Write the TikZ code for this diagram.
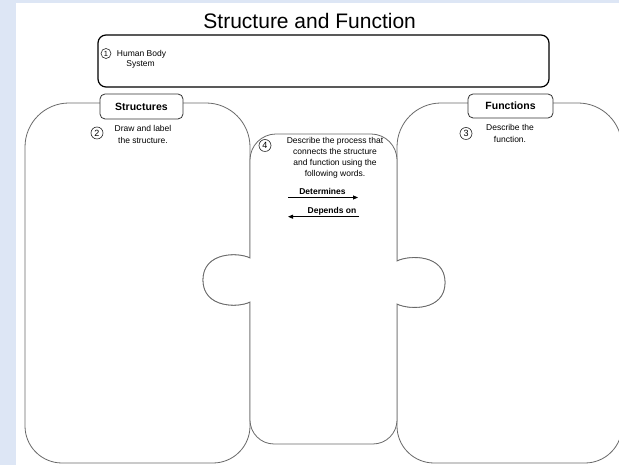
\documentclass[tikz,border=0pt]{standalone}
\usepackage{fontspec}
\setmainfont{Liberation Sans}
\usetikzlibrary{arrows.meta}
\definecolor{bgblue}{RGB}{221,230,245}
\definecolor{piecegray}{RGB}{105,105,105}
\begin{document}
\begin{tikzpicture}[x=1pt,y=1pt,
  piece/.style={draw=piecegray,line width=0.8pt,fill=white},
  labelbox/.style={draw=black!80,line width=0.8pt,fill=white,rounded corners=5pt,inner sep=0pt,font=\bfseries\fontsize{10.5}{12}\selectfont},
  numcirc/.style={circle,draw=black!85,line width=0.6pt,inner sep=0pt,minimum size=12pt,font=\fontsize{9}{9}\selectfont},
  txt/.style={anchor=base,font=\fontsize{8.5}{10}\selectfont,inner sep=0pt},
  btxt/.style={anchor=base,font=\bfseries\fontsize{8.5}{10}\selectfont,inner sep=0pt},
  arr/.style={line width=0.8pt,-{Triangle[length=5pt,width=4pt]}}]
\useasboundingbox (0,0) rectangle (619,465);
\fill[bgblue] (0,0) rectangle (619,465);
\fill[white] (16,0) rectangle (619,462);
\begin{scope}
\clip (0,0) rectangle (619,465);
% left piece
\draw[piece] (250,207) -- (250,318) arc[start angle=0,end angle=90,radius=44]
  -- (69,362) arc[start angle=90,end angle=180,radius=44]
  -- (25,39) arc[start angle=180,end angle=270,radius=37]
  -- (213,2) arc[start angle=270,end angle=360,radius=37]
  -- (250,163) .. controls (238,157) and (203,157) .. (203,185)
  .. controls (203,213) and (238,213) .. (250,207) -- cycle;
% right piece
\draw[piece] (397,161) -- (397,39) arc[start angle=180,end angle=270,radius=37]
  -- (585,2) arc[start angle=270,end angle=360,radius=37]
  -- (622,318) arc[start angle=0,end angle=90,radius=44]
  -- (441,362) arc[start angle=90,end angle=180,radius=44]
  -- (397,204) .. controls (409,210) and (445,211) .. (445,182.5)
  .. controls (445,154) and (409,155) .. (397,161) -- cycle;
% centre piece
\draw[piece] (250,207) -- (250,305) arc[start angle=180,end angle=90,radius=26]
  -- (371,331) arc[start angle=90,end angle=0,radius=26]
  -- (397,204) .. controls (409,210) and (445,211) .. (445,182.5)
  .. controls (445,154) and (409,155) .. (397,161)
  -- (397,45) arc[start angle=0,end angle=-90,radius=24]
  -- (274,21) arc[start angle=270,end angle=180,radius=24]
  -- (250,163) .. controls (238,157) and (203,157) .. (203,185)
  .. controls (203,213) and (238,213) .. (250,207) -- cycle;
\end{scope}
% title
\node[anchor=base,inner sep=0pt,font=\fontsize{21}{24}\selectfont] (title) at (309.7,436.5) {Structure and Function};
% top box
\node[draw=black,line width=1.2pt,rounded corners=8pt,minimum width=451pt,minimum height=52pt,inner sep=0pt] (sysbox) at (323.5,404) {};
\node[numcirc,minimum size=10pt,font=\fontsize{7.5}{7.5}\selectfont] (n1) at (106,411.5) {1};
\node[txt] (hb1) at (141.5,408.5) {Human Body};
\node[txt] (hb2) at (140.5,398) {System};
% label boxes
\node[labelbox,minimum width=83pt,minimum height=25pt] (structlbl) at (141.5,358.5) {Structures};
\node[labelbox,minimum width=85pt,minimum height=24pt] (funclbl) at (510.5,359) {Functions};
% structures text
\node[numcirc] (n2) at (97,332) {2};
\node[txt] (s1) at (143,333.5) {Draw and label};
\node[txt] (s2) at (143,321.5) {the structure.};
% functions text
\node[numcirc] (n3) at (466,331.5) {3};
\node[txt] (f1) at (510,334) {Describe the};
\node[txt] (f2) at (510,322) {function.};
% centre text
\node[numcirc] (n4) at (265,319.5) {4};
\node[txt] (c1) at (335,321) {Describe the process that};
\node[txt] (c2) at (335,310) {connects the structure};
\node[txt] (c3) at (335,299) {and function using the};
\node[txt] (c4) at (335,288) {following words.};
\node[btxt] (det) at (322.5,270) {Determines};
\node[btxt] (dep) at (332,251.7) {Depends on};
\coordinate (detA) at (288,267.5);
\coordinate (detB) at (358,267.5);
\coordinate (depA) at (359,248.3);
\coordinate (depB) at (288,248.3);
\draw[arr] (detA) -- (detB);
\draw[arr] (depA) -- (depB);
\end{tikzpicture}
\end{document}
